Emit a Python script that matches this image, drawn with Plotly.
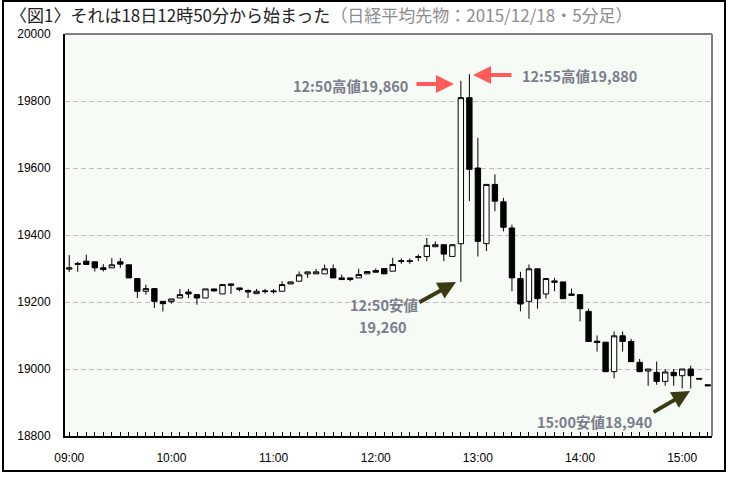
import plotly.graph_objects as go

# ---------------- data ----------------
DATE = "2015-12-18"
times = ["09:00","09:05","09:10","09:15","09:20","09:25","09:30","09:35","09:40","09:45","09:50","09:55",
         "10:00","10:05","10:10","10:15","10:20","10:25","10:30","10:35","10:40","10:45","10:50","10:55",
         "11:00","11:05","11:10","11:15","11:20","11:25","11:30","11:35","11:40","11:45","11:50","11:55",
         "12:00","12:05","12:10","12:15","12:20","12:25","12:30","12:35","12:40","12:45","12:50","12:55",
         "13:00","13:05","13:10","13:15","13:20","13:25","13:30","13:35","13:40","13:45","13:50","13:55",
         "14:00","14:05","14:10","14:15","14:20","14:25","14:30","14:35","14:40","14:45","14:50","14:55",
         "15:00","15:05","15:10","15:15"]

open_ = [19298,19312,19322,19320,19302,19302,19320,19311,19270,19232,19240,19202,
         19201,19212,19230,19222,19212,19239,19224,19254,19242,19234,19225,19231,
         19233,19232,19254,19262,19284,19284,19284,19299,19272,19272,19272,19284,
         19294,19300,19292,19321,19323,19333,19336,19365,19371,19336,19374,19810,
         19600,19374,19551,19499,19421,19270,19202,19299,19224,19263,19260,19224,
         19222,19172,19083,19080,18992,19099,19082,19020,18994,18990,18963,18990,
         18980,19000,18972,18953]
high = [19340,19320,19341,19320,19313,19331,19331,19311,19270,19252,19240,19202,
        19209,19239,19239,19222,19239,19239,19252,19254,19242,19238,19239,19239,
        19239,19262,19260,19291,19290,19299,19312,19312,19282,19272,19299,19291,
        19300,19300,19332,19330,19330,19342,19391,19381,19371,19371,19860,19880,
        19690,19551,19581,19511,19431,19290,19312,19299,19270,19272,19260,19240,
        19222,19180,19100,19080,19112,19112,19090,19030,19000,19022,19000,19000,
        19000,19010,18972,18953]
low = [19290,19290,19312,19291,19291,19302,19302,19272,19212,19222,19182,19172,
       19195,19212,19212,19192,19212,19232,19224,19224,19232,19212,19225,19225,
       19225,19232,19254,19262,19272,19284,19284,19272,19267,19262,19272,19284,
       19289,19284,19292,19314,19314,19322,19322,19365,19322,19336,19260,19501,
       19336,19352,19471,19411,19232,19172,19150,19180,19210,19232,19210,19220,
       19142,19082,19052,18992,18972,19052,19022,18992,18950,18953,18950,18950,
       18942,18942,18970,18950]
close = [19302,19315,19312,19302,19297,19311,19313,19272,19232,19240,19202,19195,
         19209,19222,19224,19212,19239,19233,19252,19250,19237,19230,19232,19233,
         19231,19252,19260,19281,19290,19290,19299,19272,19267,19267,19282,19291,
         19289,19284,19312,19323,19321,19335,19369,19371,19343,19371,19810,19596,
         19381,19551,19501,19423,19272,19194,19299,19210,19270,19259,19210,19220,
         19180,19082,19079,18992,19099,19082,19022,18992,19000,18963,18991,18980,
         19000,18980,18970,18950]

hour_ticks = ["09:00","10:00","11:00","12:00","13:00","14:00","15:00"]
y_ticks = [18800,19000,19200,19400,19600,19800,20000]

title_main = "〈図1〉それは18日12時50分から始まった"
title_sub = "（日経平均先物：2015/12/18・5分足）"
notes = ["12:50高値19,860", "12:55高値19,880", "12:50安値", "19,260", "15:00安値18,940"]

# ---------------- layout helpers (pixel -> paper) ----------------
W, H = 730, 478
L, R, T, B = 65, 712, 34, 436
def px(xp, yp):
    return (xp - L) / (R - L), (B - yp) / (B - T)

x = [f"{DATE} {t}" for t in times]

fig = go.Figure()
fig.add_trace(go.Candlestick(
    x=x, open=open_, high=high, low=low, close=close,
    increasing=dict(line=dict(color="black", width=1), fillcolor="white"),
    decreasing=dict(line=dict(color="black", width=1), fillcolor="black"),
    whiskerwidth=0, showlegend=False, hoverinfo="skip",
))

fig.update_layout(
    width=W, height=H,
    margin=dict(l=L, r=W - R, t=T, b=H - B, pad=0),
    paper_bgcolor="white", plot_bgcolor="#f6fcf5",
    boxgap=0.1,
    font=dict(family="Liberation Sans, Arial, sans-serif", size=12, color="black"),
    xaxis=dict(
        type="date", rangeslider=dict(visible=False),
        range=[f"{DATE} 08:57:30", f"{DATE} 15:17:30"],
        tickmode="array", tickvals=[f"{DATE} {t}" for t in hour_ticks], ticktext=hour_ticks,
        ticks="inside", ticklen=4, tickcolor="black", tickwidth=1,
        minor=dict(ticks="inside", ticklen=4, tickcolor="black", tickwidth=1,
                   tick0=f"{DATE} 09:00", dtick=300000, showgrid=False),
        showgrid=False, showline=True, linecolor="black", linewidth=2,
        ticklabelstandoff=10, zeroline=False,
    ),
    yaxis=dict(
        range=[18800, 20000], tickvals=y_ticks, tickformat="d", ticks="",
        showgrid=True, gridcolor="#bdbdbd", gridwidth=1, griddash="5px,3px",
        showline=True, linecolor="black", linewidth=2, zeroline=False,
        ticklabelstandoff=10,
    ),
)

# plot frame (gray top/right), outer black frame
fig.add_shape(type="line", xref="paper", yref="paper", x0=0, x1=1, y0=1, y1=1,
              line=dict(color="#808080", width=2), layer="above")
fig.add_shape(type="line", xref="paper", yref="paper", x0=1, x1=1, y0=0, y1=1,
              line=dict(color="#808080", width=2), layer="above")
fx0, fy1 = px(3, 1)
fx1, fy0 = px(725, 471)
fig.add_shape(type="rect", xref="paper", yref="paper", x0=fx0, x1=fx1, y0=fy0, y1=fy1,
              line=dict(color="black", width=2), layer="above")

# title
tx, ty = px(8, 14)
fig.add_annotation(xref="paper", yref="paper", x=tx, y=ty, xanchor="left", yanchor="middle",
                   showarrow=False,
                   text=f"<span style='color:#222'>{title_main}</span><span style='color:#8c8c8c'>{title_sub}</span>",
                   font=dict(family="Noto Sans CJK JP", size=17))

note_font = dict(family="Noto Sans CJK JP", size=14.5, color="#7b7d8c")
for (cx, cy), txt in zip([(350, 85), (579, 76), (384, 304), (383, 326), (594, 421)], notes):
    ax_, ay_ = px(cx, cy)
    fig.add_annotation(xref="paper", yref="paper", x=ax_, y=ay_, showarrow=False,
                       text=f"<b>{txt}</b>", font=note_font, align="center",
                       xanchor="center", yanchor="middle")

# arrows: head (x,y) pixel, tail pixel
arrows = [((454, 84), (415, 84), "#ff5b5b"),
          ((473, 75), (513, 75), "#ff5b5b"),
          ((456, 282), (418, 303), "#3a3a14"),
          ((690, 391), (652, 413), "#3a3a14")]
for (hx, hy), (txp, typ), col in arrows:
    px_, py_ = px(hx, hy)
    fig.add_annotation(xref="paper", yref="paper", x=px_, y=py_, text="",
                       showarrow=True, ax=txp - hx, ay=typ - hy, axref="pixel", ayref="pixel",
                       arrowhead=2, arrowsize=0.9, arrowwidth=4, arrowcolor=col, standoff=0)

fig.write_html("out.html", config={"displayModeBar": False},
               post_script="document.body.style.margin='0';document.body.style.overflow='hidden';")
